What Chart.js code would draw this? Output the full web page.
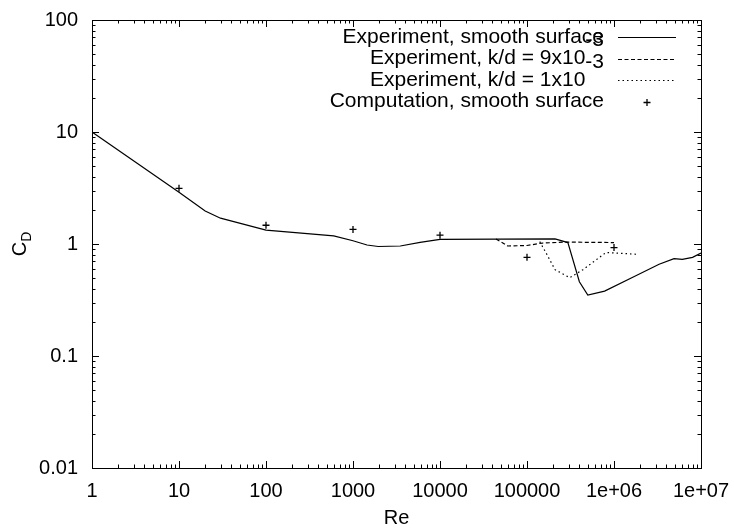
<!DOCTYPE html>
<html>
<head>
<meta charset="utf-8">
<script src="https://cdn.jsdelivr.net/npm/chart.js@4"></script>
<style>
  html, body { margin: 0; padding: 0; background: #fff; }
  #wrap { width: 734px; height: 530px; }
</style>
</head>
<body>
<div id="wrap"><canvas id="cd-chart" width="734" height="530"></canvas></div>
<script>
// drag coefficient of a sphere against Reynolds number
const smoothRe = [1, 10, 20, 30, 100, 600, 1000, 1450, 1950, 3500, 5900, 10000, 210000, 295000, 400000, 500000, 780000, 1600000, 3300000, 4900000, 6100000, 8000000, 10000000];
const smoothCd = [10, 2.9, 1.97, 1.7, 1.33, 1.18, 1.07, 0.98, 0.95, 0.96, 1.035, 1.10, 1.11, 1.03, 0.46, 0.35, 0.38, 0.50, 0.66, 0.74, 0.73, 0.76, 0.83];

const rough9Re = [44000, 60000, 100000, 150000, 280000, 1000000];
const rough9Cd = [1.11, 0.96, 0.97, 1.02, 1.04, 1.03];

const rough1Re = [140000, 166000, 210000, 310000, 440000, 810000, 1800000];
const rough1Cd = [1.05, 0.83, 0.59, 0.50, 0.59, 0.84, 0.81];

const compRe = [10, 100, 1000, 10000, 100000, 1000000];
const compCd = [3.14, 1.47, 1.35, 1.20, 0.76, 0.93];

const xTicks = [1, 10, 100, 1000, 10000, 100000, 1000000, 10000000];
const xTickLabels = ['1', '10', '100', '1000', '10000', '100000', '1e+06', '1e+07'];
const yTicks = [0.01, 0.1, 1, 10, 100];
const yTickLabels = ['0.01', '0.1', '1', '10', '100'];

const legendLabels = ['Experiment, smooth surface', 'Experiment, k/d = 9x10', 'Experiment, k/d = 1x10', 'Computation, smooth surface'];
const legendSup = ['', '-3', '-3', ''];

const FONT = '"Liberation Sans", Arial, sans-serif';

const toPoints = (xs, ys) => xs.map((x, i) => ({ x: x, y: ys[i] }));
const labelFor = (ticks, labels, v) => {
  const i = ticks.findIndex((t) => Math.abs(Math.log10(t) - Math.log10(v)) < 1e-6);
  return i >= 0 ? labels[i] : '';
};

// gnuplot style box: frame with inward major/minor tics on all sides
const frameTicks = {
  id: 'frameTicks',
  beforeDatasetsDraw(chart) {
    const { ctx, chartArea: a, scales } = chart;
    const minors = (lo, hi) => {
      const out = [];
      for (let e = Math.floor(Math.log10(lo)); e < Math.log10(hi); e++) {
        for (let m = 1; m <= 9; m++) {
          const v = m * Math.pow(10, e);
          if (v >= lo * 0.999 && v <= hi * 1.001) out.push({ v: v, major: m === 1 });
        }
      }
      out.push({ v: hi, major: true });
      return out;
    };
    ctx.save();
    ctx.strokeStyle = '#000';
    ctx.lineWidth = 1;
    ctx.beginPath();
    minors(scales.x.min, scales.x.max).forEach((t) => {
      const px = Math.round(scales.x.getPixelForValue(t.v)) + 0.5;
      const len = t.major ? 7 : 3.5;
      ctx.moveTo(px, a.bottom); ctx.lineTo(px, a.bottom - len);
      ctx.moveTo(px, a.top); ctx.lineTo(px, a.top + len);
    });
    minors(scales.y.min, scales.y.max).forEach((t) => {
      const py = Math.round(scales.y.getPixelForValue(t.v)) + 0.5;
      const len = t.major ? 7 : 3.5;
      ctx.moveTo(a.left, py); ctx.lineTo(a.left + len, py);
      ctx.moveTo(a.right, py); ctx.lineTo(a.right - len, py);
    });
    ctx.stroke();
    ctx.strokeRect(Math.round(a.left) + 0.5, Math.round(a.top) + 0.5, Math.round(a.right - a.left), Math.round(a.bottom - a.top));

    // axis titles
    ctx.fillStyle = '#000';
    ctx.textBaseline = 'middle';
    ctx.textAlign = 'center';
    ctx.font = '20px ' + FONT;
    ctx.fillText('Re', (a.left + a.right) / 2, 518);

    ctx.translate(20, (a.top + a.bottom) / 2);
    ctx.rotate(-Math.PI / 2);
    ctx.textAlign = 'left';
    const cw = ctx.measureText('C').width;
    ctx.font = '14px ' + FONT;
    const dw = ctx.measureText('D').width;
    const x0 = -(cw + dw) / 2;
    ctx.font = '20px ' + FONT;
    ctx.fillText('C', x0, 0);
    ctx.font = '14px ' + FONT;
    ctx.fillText('D', x0 + cw, 7);
    ctx.restore();
  }
};

// right-aligned key with the sample on the right, as gnuplot draws it
const keyBox = {
  id: 'keyBox',
  afterDraw(chart) {
    const { ctx } = chart;
    const textRight = 604;
    const sampleL = 618, sampleR = 676;
    ctx.save();
    ctx.fillStyle = '#000';
    ctx.strokeStyle = '#000';
    ctx.textBaseline = 'middle';
    chart.data.datasets.forEach((ds, i) => {
      const y = 37 + i * 21.5;
      ctx.font = '21px ' + FONT;
      const sup = legendSup[i];
      const supW = sup ? ctx.measureText(sup).width : 0;
      ctx.textAlign = 'right';
      ctx.fillText(legendLabels[i], textRight - supW, y);
      if (sup) {
        ctx.textAlign = 'left';
        ctx.fillText(sup, textRight - supW, y - 18);
      }
      const ly = Math.round(y) + 0.5;
      if (ds.showLine) {
        ctx.lineWidth = ds.borderWidth;
        ctx.setLineDash(ds.borderDash || []);
        ctx.beginPath();
        ctx.moveTo(sampleL, ly);
        ctx.lineTo(sampleR, ly);
        ctx.stroke();
        ctx.setLineDash([]);
      } else {
        const cx = (sampleL + sampleR) / 2;
        ctx.lineWidth = ds.borderWidth;
        ctx.beginPath();
        ctx.moveTo(cx - ds.pointRadius, ly); ctx.lineTo(cx + ds.pointRadius, ly);
        ctx.moveTo(cx, ly - ds.pointRadius); ctx.lineTo(cx, ly + ds.pointRadius);
        ctx.stroke();
      }
    });
    ctx.restore();
  }
};

const ctx = document.getElementById('cd-chart');

new Chart(ctx, {
  type: 'scatter',
  data: {
    datasets: [{
      label: legendLabels[0],
      data: toPoints(smoothRe, smoothCd),
      showLine: true,
      borderColor: '#000',
      borderWidth: 1.2,
      pointRadius: 0,
    }, {
      label: legendLabels[1],
      data: toPoints(rough9Re, rough9Cd),
      showLine: true,
      borderColor: '#000',
      borderWidth: 1.2,
      borderDash: [4, 2.5],
      pointRadius: 0,
    }, {
      label: legendLabels[2],
      data: toPoints(rough1Re, rough1Cd),
      showLine: true,
      borderColor: '#000',
      borderWidth: 1.2,
      borderDash: [1.5, 3],
      pointRadius: 0,
    }, {
      label: legendLabels[3],
      data: toPoints(compRe, compCd),
      showLine: false,
      borderColor: '#000',
      backgroundColor: '#000',
      borderWidth: 1.3,
      pointStyle: 'cross',
      pointRadius: 3.5,
    }]
  },
  options: {
    responsive: false,
    animation: false,
    devicePixelRatio: 1,
    layout: { padding: { left: 0, right: 33, top: 20, bottom: 0 } },
    plugins: {
      legend: { display: false },
      tooltip: { enabled: false },
    },
    scales: {
      x: {
        type: 'logarithmic',
        min: 1,
        max: 10000000,
        grid: { display: false, drawTicks: false },
        border: { display: false },
        afterBuildTicks: (scale) => { scale.ticks = xTicks.map((v) => ({ value: v })); },
        afterFit: (scale) => {
          scale.height = 62;
          scale.paddingLeft = 0;
          scale.paddingRight = 0;
        },
        ticks: {
          color: '#000',
          font: { family: FONT, size: 20 },
          padding: 11,
          maxRotation: 0,
          autoSkip: false,
          callback: (v) => labelFor(xTicks, xTickLabels, v),
        },
      },
      y: {
        type: 'logarithmic',
        min: 0.01,
        max: 100,
        grid: { display: false, drawTicks: false },
        border: { display: false },
        afterBuildTicks: (scale) => { scale.ticks = yTicks.map((v) => ({ value: v })); },
        afterFit: (scale) => {
          scale.width = 92;
          scale.paddingTop = 0;
          scale.paddingBottom = 0;
        },
        ticks: {
          color: '#000',
          font: { family: FONT, size: 20 },
          padding: 14,
          autoSkip: false,
          callback: (v) => labelFor(yTicks, yTickLabels, v),
        },
      },
    },
  },
  plugins: [frameTicks, keyBox],
});
</script>
</body>
</html>
